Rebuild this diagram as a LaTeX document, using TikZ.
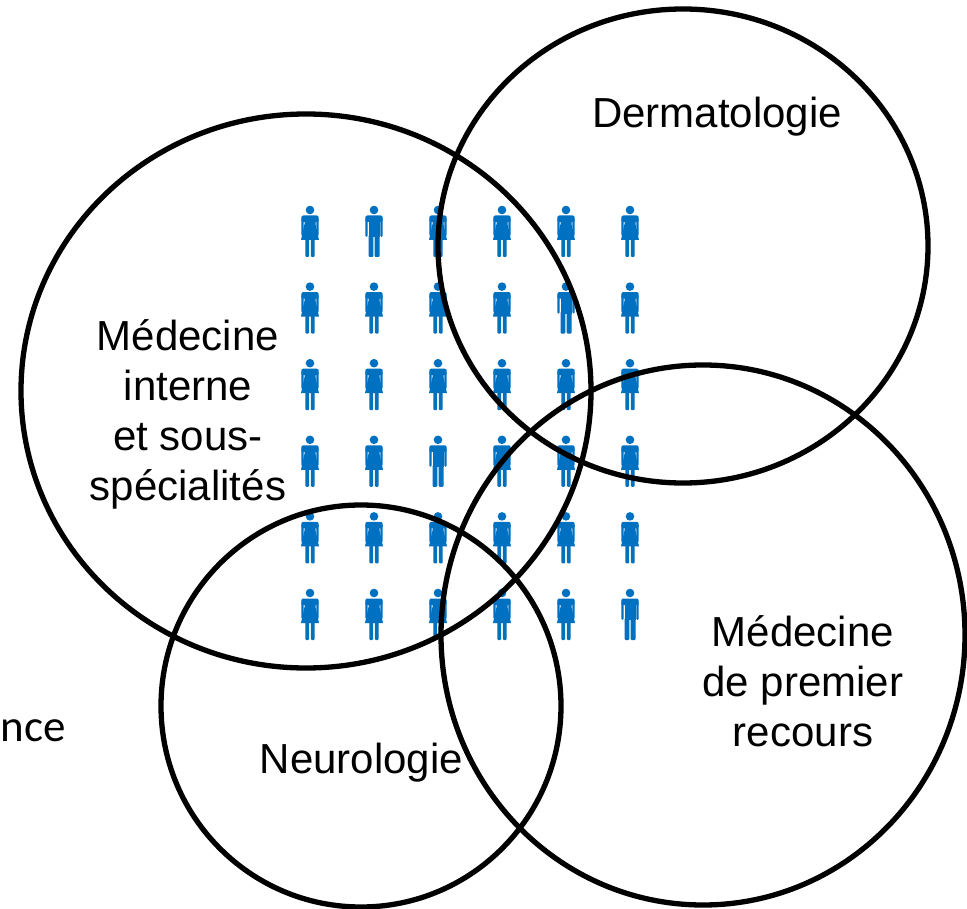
\documentclass[tikz,border=0pt]{standalone}
\usepackage{fontspec}
\setmainfont{Liberation Sans}
\newfontfamily\sidefont{Carlito}
\usetikzlibrary{positioning}

\definecolor{iconblue}{HTML}{0070C0}

\tikzset{
    venn/.style={line width=5.3pt},
    lbl/.style={font=\fontsize{42}{50}\selectfont, align=center, inner sep=0pt},
    woman/.pic={
        \fill[iconblue] (0,4) circle (4.3);
        \fill[iconblue, rounded corners=2pt] (-8.7,9.5) rectangle (8.7,16);
        \fill[iconblue, rounded corners=1.2pt] (-8.7,12) rectangle (-6.4,30);
        \fill[iconblue, rounded corners=1.2pt] (6.4,12) rectangle (8.7,30);
        \fill[iconblue] (-5.5,12) -- (5.5,12) -- (5.5,18) -- (9,34) -- (-9,34) -- (-5.5,18) -- cycle;
        \fill[iconblue, rounded corners=1pt] (-4.6,33) rectangle (-0.9,51);
        \fill[iconblue, rounded corners=1pt] (0.9,33) rectangle (4.6,51);
    },
    man/.pic={
        \fill[iconblue] (0,4) circle (4.3);
        \fill[iconblue, rounded corners=2pt] (-8.7,9.5) rectangle (8.7,16);
        \fill[iconblue, rounded corners=1.2pt] (-8.7,12) rectangle (-6.4,31);
        \fill[iconblue, rounded corners=1.2pt] (6.4,12) rectangle (8.7,31);
        \fill[iconblue] (-5.5,12) rectangle (5.5,31);
        \fill[iconblue, rounded corners=1pt] (-5.5,29) rectangle (-0.7,51);
        \fill[iconblue, rounded corners=1pt] (0.7,29) rectangle (5.5,51);
    }
}

\begin{document}
\begin{tikzpicture}[x=1pt, y=-1pt]
    \useasboundingbox (0,0) rectangle (967,909);
    \fill[white] (0,0) rectangle (967,909);

    % grid of people
    \foreach \kind [count=\i from 0] in {woman,man,woman,woman,woman,woman,
                                         woman,woman,woman,woman,man,woman,
                                         woman,woman,woman,woman,woman,woman,
                                         woman,woman,man,woman,woman,woman,
                                         woman,woman,woman,woman,woman,woman,
                                         woman,woman,woman,woman,woman,man} {
        \pgfmathtruncatemacro{\col}{mod(\i,6)}
        \pgfmathtruncatemacro{\row}{div(\i,6)}
        \pic at ({310+64*\col},{206+76.6*\row}) {\kind};
    }

    \draw[venn] (306,391) ellipse [x radius=285, y radius=277];
    \draw[venn] (683,246) ellipse [x radius=245, y radius=237];
    \draw[venn] (703,635) ellipse [x radius=262, y radius=270];
    \draw[venn] (361,706) ellipse [x radius=200, y radius=201];

    \node[lbl] (interne) at (188,414) {Médecine\\interne\\et sous-\\spécialités};
    \node[lbl, anchor=base] (derm) at (717,128) {Dermatologie};
    \node[lbl] (premier) at (803,681) {Médecine\\de premier\\recours};
    \node[lbl, anchor=base] (neuro) at (361.5,773) {Neurologie};
    \node[font=\sidefont\fontsize{45}{50}\selectfont, inner sep=0pt, anchor=base west] (urgence) at (0.5,741) {nce};
\end{tikzpicture}
\end{document}
